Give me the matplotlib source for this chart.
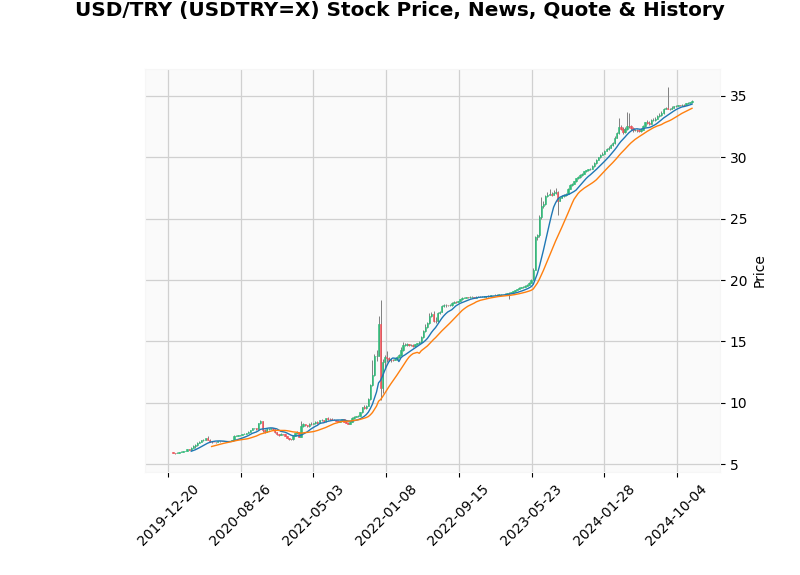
import matplotlib
matplotlib.use("Agg")
import matplotlib.pyplot as plt
import matplotlib.dates as mdates
from matplotlib.ticker import MultipleLocator, FuncFormatter
import numpy as np
import pandas as pd

# Weekly candles (Monday of each week)
weeks = pd.date_range("2020-01-06", "2024-11-25", freq="7D")

open_2020 = [5.95, 5.88, 5.87, 5.93, 5.99, 6.00, 6.04, 6.07, 6.21, 6.17, 6.28, 6.45, 6.52,
             6.74, 6.83, 6.94, 6.97, 7.10, 6.98, 6.82, 6.80, 6.78, 6.77, 6.84, 6.86, 6.85,
             6.86, 6.85, 6.85, 6.85, 6.97, 7.30, 7.30, 7.36, 7.37, 7.43, 7.47, 7.52, 7.61,
             7.77, 7.90, 7.91, 7.84, 8.32, 8.51, 7.76, 7.63, 7.85, 7.85, 7.91, 7.83, 7.58]
high_2020 = [5.99, 5.91, 5.95, 6.01, 6.03, 6.06, 6.10, 6.24, 6.25, 6.35, 6.55, 6.60, 6.80,
             6.90, 6.97, 7.03, 7.15, 7.27, 7.05, 6.86, 6.83, 6.80, 6.86, 6.88, 6.87, 6.87,
             6.87, 6.87, 6.86, 7.00, 7.35, 7.38, 7.38, 7.40, 7.46, 7.50, 7.55, 7.66, 7.80,
             7.95, 7.96, 7.96, 8.36, 8.58, 8.53, 7.82, 7.95, 7.93, 7.97, 7.95, 7.85, 7.62]
low_2020 = [5.86, 5.84, 5.86, 5.92, 5.96, 5.99, 6.03, 6.06, 6.11, 6.15, 6.27, 6.33, 6.50,
            6.72, 6.78, 6.90, 6.94, 6.97, 6.80, 6.75, 6.76, 6.74, 6.76, 6.83, 6.84, 6.84,
            6.84, 6.84, 6.84, 6.84, 6.96, 7.25, 7.28, 7.30, 7.35, 7.41, 7.45, 7.50, 7.58,
            7.75, 7.85, 7.80, 7.82, 8.30, 7.65, 7.55, 7.60, 7.80, 7.83, 7.78, 7.52, 7.36]
close_2020 = [5.88, 5.87, 5.93, 5.99, 6.00, 6.04, 6.07, 6.21, 6.17, 6.28, 6.45, 6.52, 6.74,
              6.83, 6.94, 6.97, 7.10, 6.98, 6.82, 6.80, 6.78, 6.77, 6.84, 6.86, 6.85, 6.86,
              6.85, 6.85, 6.85, 6.97, 7.30, 7.30, 7.36, 7.37, 7.43, 7.47, 7.52, 7.61, 7.77,
              7.90, 7.91, 7.84, 8.32, 8.51, 7.76, 7.63, 7.85, 7.85, 7.91, 7.83, 7.58, 7.43]

open_2021 = [7.43, 7.37, 7.44, 7.43, 7.30, 7.14, 7.04, 7.01, 7.28, 7.49, 7.60, 7.22, 8.10,
             8.28, 8.18, 8.08, 8.30, 8.28, 8.33, 8.44, 8.38, 8.55, 8.61, 8.48, 8.73, 8.70,
             8.65, 8.61, 8.58, 8.53, 8.45, 8.54, 8.66, 8.45, 8.36, 8.30, 8.46, 8.78, 8.83,
             8.90, 8.92, 9.24, 9.62, 9.54, 9.75, 10.29, 11.47, 12.26, 13.77, 13.82, 16.45, 11.20]
high_2021 = [7.47, 7.49, 7.48, 7.45, 7.32, 7.15, 7.08, 7.33, 7.55, 7.66, 7.62, 8.47, 8.35,
             8.30, 8.22, 8.35, 8.40, 8.38, 8.50, 8.48, 8.58, 8.65, 8.63, 8.78, 8.85, 8.78,
             8.72, 8.68, 8.62, 8.58, 8.60, 8.70, 8.68, 8.50, 8.40, 8.50, 8.82, 8.90, 8.95,
             8.97, 9.28, 9.65, 9.85, 9.80, 10.35, 11.50, 13.45, 14.00, 14.30, 17.10, 18.36, 13.60]
low_2021 = [7.30, 7.35, 7.38, 7.26, 7.10, 7.00, 6.92, 6.98, 7.25, 7.45, 7.18, 7.20, 8.05,
            8.10, 8.00, 8.05, 8.20, 8.25, 8.30, 8.30, 8.36, 8.50, 8.40, 8.45, 8.60, 8.60,
            8.55, 8.55, 8.48, 8.40, 8.40, 8.52, 8.42, 8.32, 8.25, 8.28, 8.44, 8.70, 8.80,
            8.85, 8.90, 9.20, 9.45, 9.50, 9.72, 10.25, 11.40, 12.20, 13.40, 13.80, 10.25, 10.80]
close_2021 = [7.37, 7.44, 7.43, 7.30, 7.14, 7.04, 7.01, 7.28, 7.49, 7.60, 7.22, 8.10, 8.28,
              8.18, 8.08, 8.30, 8.28, 8.33, 8.44, 8.38, 8.55, 8.61, 8.48, 8.73, 8.70, 8.65,
              8.61, 8.58, 8.53, 8.45, 8.54, 8.66, 8.45, 8.36, 8.30, 8.46, 8.78, 8.83, 8.90,
              8.92, 9.24, 9.62, 9.54, 9.75, 10.29, 11.47, 12.26, 13.77, 13.82, 16.45, 11.20, 13.32]

open_2022 = [13.32, 13.76, 13.63, 13.52, 13.49, 13.48, 13.56, 13.71, 13.85, 14.30, 14.73, 14.73, 14.76,
             14.67, 14.70, 14.62, 14.75, 14.84, 14.95, 15.36, 15.87, 16.18, 16.46, 17.03, 17.23, 16.70,
             16.62, 17.30, 17.41, 17.86, 17.94, 17.94, 17.93, 17.95, 18.16, 18.24, 18.21, 18.27, 18.43,
             18.52, 18.56, 18.61, 18.60, 18.62, 18.62, 18.57, 18.63, 18.65, 18.63, 18.65, 18.68, 18.66]
high_2022 = [13.85, 14.20, 13.70, 13.65, 13.60, 13.65, 13.80, 14.00, 14.50, 14.95, 14.85, 14.90, 14.80,
             14.78, 14.75, 14.80, 14.90, 15.00, 15.45, 15.95, 16.40, 16.60, 17.30, 17.40, 17.45, 16.95,
             17.40, 17.50, 17.95, 18.05, 18.05, 18.00, 18.05, 18.20, 18.28, 18.28, 18.32, 18.48, 18.58,
             18.60, 18.65, 18.64, 18.66, 18.66, 18.65, 18.66, 18.68, 18.67, 18.68, 18.71, 18.70, 18.75]
low_2022 = [12.75, 13.30, 13.40, 13.35, 13.40, 13.45, 13.50, 13.65, 13.80, 14.25, 14.60, 14.65, 14.60,
            14.62, 14.55, 14.58, 14.70, 14.80, 14.90, 15.30, 15.80, 16.10, 16.40, 17.00, 16.60, 16.50,
            16.60, 17.20, 17.38, 17.80, 17.80, 17.85, 17.88, 17.92, 18.12, 18.15, 18.18, 18.25, 18.40,
            18.50, 18.54, 18.55, 18.57, 18.58, 18.50, 18.55, 18.60, 18.58, 18.60, 18.62, 18.55, 18.64]
close_2022 = [13.76, 13.63, 13.52, 13.49, 13.48, 13.56, 13.71, 13.85, 14.30, 14.73, 14.73, 14.76, 14.67,
              14.70, 14.62, 14.75, 14.84, 14.95, 15.36, 15.87, 16.18, 16.46, 17.03, 17.23, 16.70, 16.62,
              17.30, 17.41, 17.86, 17.94, 17.94, 17.93, 17.95, 18.16, 18.24, 18.21, 18.27, 18.43, 18.52,
              18.56, 18.61, 18.60, 18.62, 18.62, 18.57, 18.63, 18.65, 18.63, 18.65, 18.68, 18.66, 18.71]

open_2023 = [18.71, 18.77, 18.78, 18.79, 18.81, 18.82, 18.84, 18.86, 18.88, 18.91, 18.95, 19.00, 19.07,
             19.18, 19.26, 19.35, 19.40, 19.44, 19.52, 19.62, 19.78, 20.02, 20.84, 23.49, 23.65, 25.10,
             26.05, 26.20, 26.85, 26.95, 27.00, 26.95, 27.10, 27.15, 26.45, 26.70, 26.83, 26.93, 27.03,
             27.42, 27.73, 27.83, 28.06, 28.28, 28.37, 28.58, 28.68, 28.85, 28.97, 29.02, 29.06, 29.29]
high_2023 = [18.80, 18.81, 18.83, 18.85, 18.86, 18.88, 18.90, 18.92, 18.96, 18.99, 19.05, 19.12, 19.22,
             19.30, 19.40, 19.45, 19.50, 19.58, 19.68, 19.85, 20.10, 21.00, 23.60, 23.75, 25.30, 26.80,
             26.40, 26.95, 27.20, 27.40, 27.20, 27.30, 27.50, 27.25, 26.80, 26.90, 27.00, 27.10, 27.50,
             27.80, 27.90, 28.10, 28.35, 28.50, 28.65, 28.75, 28.90, 29.00, 29.08, 29.12, 29.35, 29.60]
low_2023 = [18.68, 18.74, 18.75, 18.77, 18.78, 18.80, 18.82, 18.84, 18.86, 18.45, 18.92, 18.98, 19.05,
            19.15, 19.24, 19.32, 19.38, 19.42, 19.50, 19.60, 19.75, 19.98, 20.80, 23.30, 23.50, 25.00,
            25.90, 26.10, 26.80, 26.90, 26.85, 26.90, 27.00, 25.30, 26.40, 26.65, 26.80, 26.88, 27.00,
            27.40, 27.70, 27.80, 28.00, 28.20, 28.33, 28.50, 28.65, 28.80, 28.90, 28.95, 29.02, 29.25]
close_2023 = [18.77, 18.78, 18.79, 18.81, 18.82, 18.84, 18.86, 18.88, 18.91, 18.95, 19.00, 19.07, 19.18,
              19.26, 19.35, 19.40, 19.44, 19.52, 19.62, 19.78, 20.02, 20.84, 23.49, 23.65, 25.10, 26.05,
              26.20, 26.85, 26.95, 27.00, 26.95, 27.10, 27.15, 26.45, 26.70, 26.83, 26.93, 27.03, 27.42,
              27.73, 27.83, 28.06, 28.28, 28.37, 28.58, 28.68, 28.85, 28.97, 29.02, 29.06, 29.29, 29.53]

open_2024 = [29.53, 29.82, 29.99, 30.21, 30.30, 30.53, 30.66, 30.80, 31.00, 31.19, 31.60, 31.98,
             32.45, 32.35, 32.03, 32.33, 32.57, 32.54, 32.36, 32.22, 32.23, 32.19, 32.16, 32.25,
             32.52, 32.84, 32.79, 32.75, 33.01, 33.06, 33.15, 33.38, 33.47, 33.61, 33.97, 33.99,
             33.98, 33.93, 34.06, 34.17, 34.18, 34.26, 34.23, 34.30, 34.27, 34.39, 34.46, 34.48]
high_2024 = [29.90, 30.05, 30.25, 30.40, 30.60, 30.75, 30.90, 31.05, 31.25, 31.70, 32.10, 33.20,
             32.60, 32.45, 32.45, 33.70, 33.60, 32.60, 32.45, 32.35, 32.30, 32.35, 32.40, 32.60,
             32.90, 33.05, 32.95, 33.10, 33.20, 33.30, 33.45, 33.65, 33.75, 34.05, 34.10, 35.70,
             34.05, 34.15, 34.22, 34.25, 34.30, 34.30, 34.35, 34.35, 34.45, 34.50, 34.55, 34.70]
low_2024 = [29.45, 29.78, 29.95, 30.15, 30.25, 30.50, 30.60, 30.75, 30.95, 31.10, 31.55, 31.90,
            32.20, 31.90, 31.95, 32.25, 32.40, 32.20, 32.10, 32.15, 32.10, 32.05, 32.10, 32.20,
            32.45, 32.70, 32.60, 32.70, 32.95, 33.00, 33.10, 33.30, 33.40, 33.55, 33.90, 33.90,
            33.85, 33.90, 34.00, 34.10, 34.15, 34.18, 34.20, 34.22, 34.25, 34.35, 34.40, 34.45]
close_2024 = [29.82, 29.99, 30.21, 30.30, 30.53, 30.66, 30.80, 31.00, 31.19, 31.60, 31.98, 32.45,
              32.35, 32.03, 32.33, 32.57, 32.54, 32.36, 32.22, 32.23, 32.19, 32.16, 32.25, 32.52,
              32.84, 32.79, 32.75, 33.01, 33.06, 33.15, 33.38, 33.47, 33.61, 33.97, 33.99, 33.98,
              33.93, 34.06, 34.17, 34.18, 34.26, 34.23, 34.30, 34.27, 34.39, 34.46, 34.48, 34.61]

mav_periods = [10, 20]
title = "USD/TRY (USDTRY=X) Stock Price, News, Quote & History"

opens = np.array(open_2020 + open_2021 + open_2022 + open_2023 + open_2024)
highs = np.array(high_2020 + high_2021 + high_2022 + high_2023 + high_2024)
lows = np.array(low_2020 + low_2021 + low_2022 + low_2023 + low_2024)
closes = np.array(close_2020 + close_2021 + close_2022 + close_2023 + close_2024)

x = mdates.date2num(weeks.to_pydatetime())

fig = plt.figure(figsize=(8, 5.75), dpi=100)
ax = fig.add_axes([0.18125, 0.1791, 0.71875, 0.7009])
ax.set_facecolor("#fafafa")
for s in ax.spines.values():
    s.set_color("#f6f6f6")
ax.grid(True, color="#d0d0d0", linestyle="-", linewidth=0.9)
ax.set_axisbelow(True)

up = closes >= opens
cols = np.where(up, "#2ebd7a", "#f45058")
ax.vlines(x, lows, highs, color="#808080", linewidth=0.7, zorder=2)
heights = closes - opens
ax.bar(x, heights, bottom=opens, width=5.0, color=cols, edgecolor=cols,
       linewidth=0.5, alpha=0.9, zorder=3)

ser = pd.Series(closes)
mav_cols = ["#1f77b4", "#ff7f0e"]
for p, c in zip(mav_periods, mav_cols):
    ax.plot(x, ser.rolling(p).mean().values, color=c, linewidth=1.0, zorder=4)

ax.set_xlim(18170.9, 20148.2)
ax.set_ylim(4.35, 37.2)
ax.xaxis.set_major_locator(MultipleLocator(250))
ax.xaxis.set_major_formatter(FuncFormatter(lambda v, pos: mdates.num2date(v).strftime("%Y-%m-%d")))
ax.yaxis.set_major_locator(MultipleLocator(5))
ax.yaxis.tick_right()
ax.yaxis.set_label_position("right")
ax.set_ylabel("Price", fontsize=10)
ax.tick_params(axis="x", labelrotation=45, labelsize=10)
ax.tick_params(axis="y", labelsize=10)

fig.suptitle(title, fontsize=14.4, fontweight="bold", y=0.981, va="center")

fig.savefig("out.png", dpi=100)
